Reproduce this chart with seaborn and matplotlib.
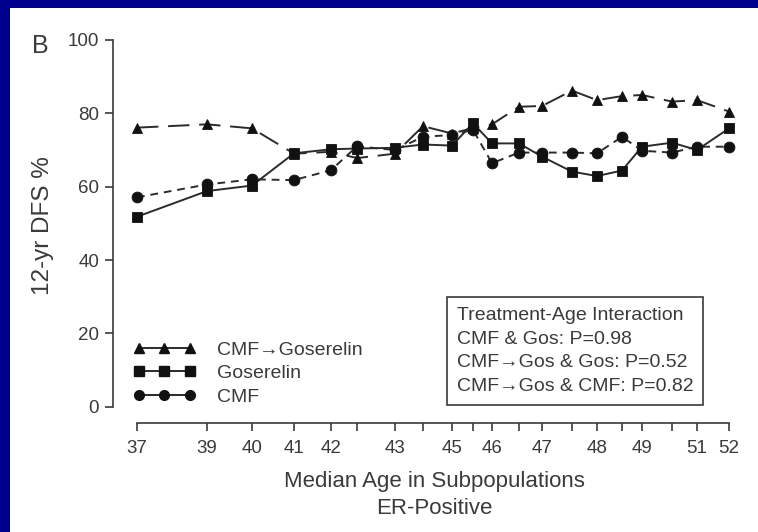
import matplotlib
matplotlib.use("Agg")
import matplotlib.pyplot as plt
from matplotlib.lines import Line2D
from matplotlib.patches import Rectangle
import pandas as pd
import seaborn as sns

# Subpopulation positions along the horizontal axis (STEPP windows)
positions = [0, 70, 115, 157, 194, 220, 258, 286, 315, 336,
             355, 382, 405, 435, 460, 485, 505, 535, 560, 592]
tick_labels = ["37", "39", "40", "41", "42", "", "43", "", "45", "",
               "46", "", "47", "", "48", "", "49", "", "51", "52"]

# 12-year disease-free survival (%) per subpopulation
cmf_gos = [76.1, 77.0, 75.9, 69.0, 69.5, 67.8, 69.0, 76.5, 74.5, 76.0,
           77.0, 81.8, 82.0, 86.2, 83.6, 84.7, 85.0, 83.2, 83.6, 80.5]
goserelin = [51.8, 58.8, 60.3, 69.1, 70.2, 70.4, 70.6, 71.5, 71.2, 77.3,
             71.8, 71.8, 68.2, 64.1, 62.9, 64.4, 70.9, 72.0, 70.0, 75.9]
cmf = [57.1, 60.6, 62.0, 61.8, 64.5, 71.0, 70.0, 73.6, 74.1, 75.5,
       66.4, 69.3, 69.3, 69.3, 69.1, 73.6, 69.8, 69.3, 70.9, 70.9]

treatments = ["CMF\u2192Goserelin", "Goserelin", "CMF"]
series = [cmf_gos, goserelin, cmf]

df = pd.concat(
    [pd.DataFrame({"pos": positions, "dfs": vals, "Treatment": name})
     for name, vals in zip(treatments, series)],
    ignore_index=True,
)

sns.set_theme(style="ticks")
plt.rcParams["font.family"] = ["Liberation Sans", "DejaVu Sans"]

text_col = "#3a3a3a"
line_col = "#2b2b2b"

fig = plt.figure(figsize=(7.58, 5.32), dpi=100)
fig.patch.set_facecolor("#00008e")
fig.add_artist(Rectangle((10 / 758, 0), 1 - 10 / 758, 524 / 532,
                         transform=fig.transFigure, facecolor="white",
                         edgecolor="none", zorder=-1))

ax = fig.add_axes([113 / 758, (532 - 423) / 532, 627 / 758, 383 / 532])
ax.set_facecolor("none")

markers = {treatments[0]: "^", treatments[1]: "s", treatments[2]: "o"}
dashes = {treatments[0]: (11, 5), treatments[1]: "", treatments[2]: (4, 3)}
palette = {t: line_col for t in treatments}

sns.lineplot(data=df, x="pos", y="dfs", hue="Treatment", style="Treatment",
             markers=markers, dashes=dashes, palette=palette, ax=ax,
             linewidth=1.4, markersize=7.8, markeredgewidth=0.6,
             markeredgecolor="#111111", legend=False, sort=False)
for ln in ax.lines:
    ln.set_markerfacecolor("#111111")

ax.set_xlim(-24, 603)
ax.set_ylim(-4.45, 100)
ax.set_xticks(positions)
ax.set_xticklabels(tick_labels)
ax.set_yticks([0, 20, 40, 60, 80, 100])

for side in ("top", "right"):
    ax.spines[side].set_visible(False)
ax.spines["left"].set_bounds(0, 100)
ax.spines["bottom"].set_bounds(positions[0], positions[-1])
for side in ("left", "bottom"):
    ax.spines[side].set_color(text_col)
    ax.spines[side].set_linewidth(1.2)

ax.tick_params(axis="both", colors=text_col, labelcolor=text_col,
               labelsize=13.5, length=6, width=1.2, direction="out")
ax.tick_params(axis="x", pad=6)
ax.tick_params(axis="y", pad=4)

ax.set_xlabel("Median Age in Subpopulations\nER-Positive", fontsize=16,
              color=text_col, linespacing=1.4)
ax.xaxis.set_label_coords(0.512, -0.125, transform=ax.transAxes)
ax.xaxis.label.set_va("top")
ax.set_ylabel("12-yr DFS %", fontsize=17.5, color=text_col)
ax.yaxis.set_label_coords(-0.094, 0.515, transform=ax.transAxes)

fig.text(40 / 758, 1 - 46 / 532, "B", fontsize=18, color=text_col,
         ha="center", va="center")

# Legend with solid sample lines
handles = [Line2D([], [], color=line_col, linewidth=1.4, marker=markers[t],
                  markersize=7, markerfacecolor="#111111",
                  markeredgecolor="#111111")
           for t in treatments]
leg = ax.legend(handles, treatments, loc="lower left",
                bbox_to_anchor=(0.02, 0.025), frameon=False, numpoints=3,
                handlelength=3.2, handletextpad=1.1, labelspacing=0.3,
                fontsize=14, borderaxespad=0)
for t in leg.get_texts():
    t.set_color(text_col)

box_text = ("Treatment-Age Interaction\n"
            "CMF & Gos: P=0.98\n"
            "CMF\u2192Gos & Gos: P=0.52\n"
            "CMF\u2192Gos & CMF: P=0.82")
ax.text(0.548, 0.073, box_text, transform=ax.transAxes, fontsize=14,
        color=text_col, ha="left", va="bottom", linespacing=1.52,
        bbox=dict(boxstyle="square,pad=0.5", facecolor="white",
                  edgecolor=text_col, linewidth=1.2))

fig.savefig("out.png", dpi=100, facecolor=fig.get_facecolor())
